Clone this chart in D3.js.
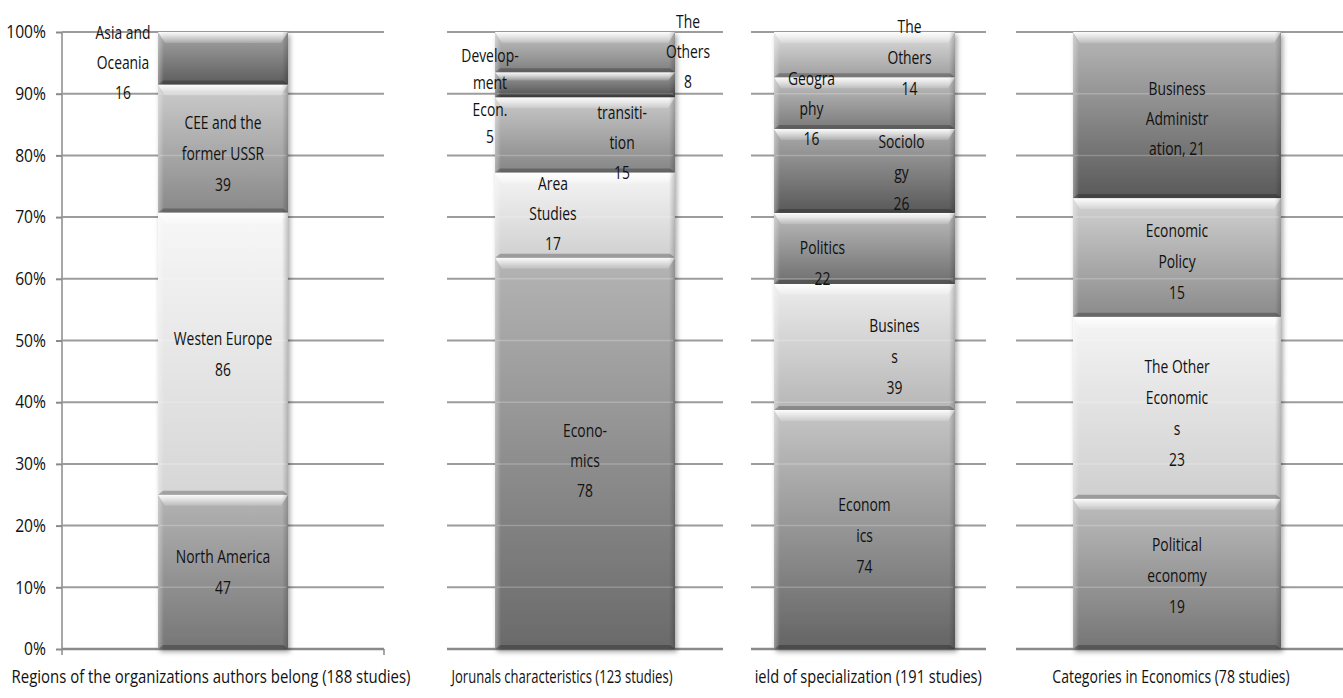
<!DOCTYPE html>
<html lang="en">
<head>
    <meta charset="UTF-8">
    <title>Studies by category</title>
    <script src="https://cdn.jsdelivr.net/npm/d3@7/dist/d3.min.js"></script>
    <style>
        body { margin: 0; background: #fff; }
        text { font-family: 'Open Sans', 'Noto Sans', sans-serif; font-size: 18px; fill: #111; }
    </style>
</head>
<body>
<script>
    // ---- data ----
    var regionNames = ['North America', 'Westen Europe', 'CEE and the\nformer USSR', 'Asia and\nOceania'];
    var regionValues = [47, 86, 39, 16];

    var journalNames = ['Econo-\nmics', 'Area\nStudies', 'transiti-\ntion', 'Develop-\nment\nEcon.', 'The\nOthers'];
    var journalValues = [78, 17, 15, 5, 8];

    var fieldNames = ['Econom\nics', 'Busines\ns', 'Politics', 'Sociolo\ngy', 'Geogra\nphy', 'The\nOthers'];
    var fieldValues = [74, 39, 22, 26, 16, 14];

    // a trailing comma means the value goes on the same line
    var econNames = ['Political\neconomy', 'The Other\nEconomic\ns', 'Economic\nPolicy', 'Business\nAdministr\nation,'];
    var econValues = [19, 23, 15, 21];

    var panelTitles = [
        'Regions of the organizations authors belong (188 studies)',
        'Jorunals characteristics (123 studies)',
        'Field of specialization (191 studies)',
        'Categories in Economics (78 studies)'
    ];
    var yTicks = [0, 0.1, 0.2, 0.3, 0.4, 0.5, 0.6, 0.7, 0.8, 0.9, 1];

    // ---- styles (top / bottom of each segment's gradient) ----
    var regionShades = [['#b4b4b4', '#767676'], ['#f7f7f7', '#d6d6d6'], ['#cccccc', '#888888'], ['#a6a6a6', '#5c5c5c']];
    var journalShades = [['#b4b4b4', '#6a6a6a'], ['#f5f5f5', '#d0d0d0'], ['#cacaca', '#858585'], ['#a0a0a0', '#505050'], ['#c4c4c4', '#7e7e7e']];
    var fieldShades = [['#c6c6c6', '#646464'], ['#ececec', '#b6b6b6'], ['#bcbcbc', '#6e6e6e'], ['#acacac', '#585858'], ['#c2c2c2', '#7a7a7a'], ['#dedede', '#9e9e9e']];
    var econShades = [['#bebebe', '#757575'], ['#f5f5f5', '#cfcfcf'], ['#d2d2d2', '#8a8a8a'], ['#b8b8b8', '#595959']];

    // label nudges [dx, dy, line height] from the segment centre
    var regionLabelShift = [[0, 0, 31], [0, 1, 31], [0, 5, 31], [-100, 4, 30]];
    var journalLabelShift = [[0, 7, 30], [-32, -1, 30], [37, 8, 30], [-95, 12, 27], [103, 0, 30]];
    var fieldLabelShift = [[0, 6, 31], [30, 10, 31], [-42, 15, 31], [37, 2, 31], [-53, 6, 30], [45, 3, 31]];
    var econLabelShift = [[0, 2, 31], [0, 5, 31], [0, 4, 31], [0, 4, 30]];

    var width = 1343, height = 698;
    // the original type is tall and narrow: squeeze it horizontally
    var labelSqueeze = 0.77;
    var tickSqueeze = 0.87;

    var panels = [
        {names: regionNames, values: regionValues, shades: regionShades, shift: regionLabelShift, grid: [62, 384], bar: [158, 288], titleDx: -12, titleSqueeze: 0.83},
        {names: journalNames, values: journalValues, shades: journalShades, shift: journalLabelShift, grid: [447, 723], bar: [495, 675], titleDx: -23, titleSqueeze: 0.725},
        {names: fieldNames, values: fieldValues, shades: fieldShades, shift: fieldLabelShift, grid: [751, 986], bar: [774, 955], titleDx: 0, titleSqueeze: 0.81, clip: true},
        {names: econNames, values: econValues, shades: econShades, shift: econLabelShift, grid: [1016, 1343], bar: [1073, 1281], titleDx: -6, titleSqueeze: 0.78}
    ];

    var svg = d3.select('body')
        .append('svg')
        .attr('width', width)
        .attr('height', height);

    var defs = svg.append('defs');

    var shadow = defs.append('filter').attr('id', 'barShadow')
        .attr('x', '-10%').attr('y', '-10%').attr('width', '130%').attr('height', '120%');
    shadow.append('feDropShadow')
        .attr('dx', 2).attr('dy', 3).attr('stdDeviation', 2.5)
        .attr('flood-color', '#000').attr('flood-opacity', 0.35);

    var bevel = defs.append('linearGradient').attr('id', 'bevelTop')
        .attr('x1', 0).attr('y1', 0).attr('x2', 0).attr('y2', 1);
    bevel.append('stop').attr('offset', '0%').attr('stop-color', '#fff').attr('stop-opacity', 0.95);
    bevel.append('stop').attr('offset', '100%').attr('stop-color', '#fff').attr('stop-opacity', 0.15);

    var sideL = defs.append('linearGradient').attr('id', 'sideL')
        .attr('x1', 0).attr('y1', 0).attr('x2', 1).attr('y2', 0);
    sideL.append('stop').attr('offset', '0%').attr('stop-color', '#fff').attr('stop-opacity', 0.35);
    sideL.append('stop').attr('offset', '100%').attr('stop-color', '#fff').attr('stop-opacity', 0);

    var sideR = defs.append('linearGradient').attr('id', 'sideR')
        .attr('x1', 0).attr('y1', 0).attr('x2', 1).attr('y2', 0);
    sideR.append('stop').attr('offset', '0%').attr('stop-color', '#000').attr('stop-opacity', 0);
    sideR.append('stop').attr('offset', '100%').attr('stop-color', '#000').attr('stop-opacity', 0.2);

    var y = d3.scaleLinear().domain([0, 1]).range([649, 32]);

    // y axis on the first panel only
    var yAxis = d3.axisLeft(y)
        .tickValues(yTicks)
        .tickFormat(d3.format('.0%'))
        .tickSize(6)
        .tickPadding(16);
    var axisG = svg.append('g')
        .attr('transform', 'translate(62,0)')
        .call(yAxis);
    axisG.select('.domain').attr('stroke', '#8a8a8a').attr('stroke-width', 1.5).attr('d', 'M0,32V655');
    axisG.selectAll('.tick line').attr('stroke', '#8a8a8a').attr('stroke-width', 2);
    axisG.selectAll('.tick text')
        .style('font-size', '18px')
        .attr('fill', '#111')
        .attr('x', -16 / tickSqueeze)
        .attr('transform', 'scale(' + tickSqueeze + ',1)');

    var labelLayer = [];

    panels.forEach(function (p, pi) {
        var g = svg.append('g');

        // grid lines
        g.selectAll('line.grid')
            .data(yTicks)
            .enter().append('line')
            .attr('x1', p.grid[0]).attr('x2', p.grid[1])
            .attr('y1', function (d) { return y(d); })
            .attr('y2', function (d) { return y(d); })
            .attr('stroke', function (d) { return d === 0 ? '#8a8a8a' : '#9c9c9c'; })
            .attr('stroke-width', function (d) { return d === 0 ? 2.5 : 2; });

        if (pi === 0) {
            g.append('line')
                .attr('x1', p.grid[1]).attr('x2', p.grid[1])
                .attr('y1', y(0)).attr('y2', y(0) + 6)
                .attr('stroke', '#8a8a8a').attr('stroke-width', 1.5);
        }

        var x = d3.scaleBand().domain([panelTitles[pi]]).range(p.bar);
        var x0 = x(panelTitles[pi]), bw = x.bandwidth(), x1 = x0 + bw;

        var row = {};
        p.names.forEach(function (n, i) { row[n] = p.values[i]; });
        var series = d3.stack().keys(p.names).offset(d3.stackOffsetExpand)([row]);

        // gradients for each segment
        series.forEach(function (s, i) {
            var lg = defs.append('linearGradient').attr('id', 'seg' + pi + '_' + i)
                .attr('x1', 0).attr('y1', 0).attr('x2', 0).attr('y2', 1);
            lg.append('stop').attr('offset', '0%').attr('stop-color', p.shades[i][0]);
            lg.append('stop').attr('offset', '100%').attr('stop-color', p.shades[i][1]);
        });

        var barG = g.append('g').attr('filter', 'url(#barShadow)');
        var segs = barG.selectAll('g.seg')
            .data(series)
            .enter().append('g');

        segs.append('rect')
            .attr('x', x0)
            .attr('width', bw)
            .attr('y', function (s) { return y(s[0][1]); })
            .attr('height', function (s) { return y(s[0][0]) - y(s[0][1]); })
            .attr('fill', function (s, i) { return 'url(#seg' + pi + '_' + i + ')'; });

        // top bevel highlight
        segs.append('path')
            .attr('d', function (s) {
                var t = y(s[0][1]), h = Math.min(11, (y(s[0][0]) - t) / 3);
                return 'M' + x0 + ',' + t + 'L' + x1 + ',' + t + 'L' + (x1 - 7) + ',' + (t + h) + 'L' + (x0 + 7) + ',' + (t + h) + 'Z';
            })
            .attr('fill', 'url(#bevelTop)');

        // side shading
        segs.append('rect')
            .attr('x', x0).attr('width', 6)
            .attr('y', function (s) { return y(s[0][1]); })
            .attr('height', function (s) { return y(s[0][0]) - y(s[0][1]); })
            .attr('fill', 'url(#sideL)');
        segs.append('rect')
            .attr('x', x1 - 6).attr('width', 6)
            .attr('y', function (s) { return y(s[0][1]); })
            .attr('height', function (s) { return y(s[0][0]) - y(s[0][1]); })
            .attr('fill', 'url(#sideR)');

        // dark bottom edge
        segs.append('path')
            .attr('d', function (s) {
                var b = y(s[0][0]), h = Math.min(4, (b - y(s[0][1])) / 4);
                return 'M' + x0 + ',' + b + 'L' + x1 + ',' + b + 'L' + (x1 - 5) + ',' + (b - h) + 'L' + (x0 + 5) + ',' + (b - h) + 'Z';
            })
            .attr('fill', '#000').attr('fill-opacity', 0.25);

        // grid lines faintly showing through the bar
        g.selectAll('line.through')
            .data(yTicks.slice(1, -1))
            .enter().append('line')
            .attr('x1', x0 + 2).attr('x2', x1 - 2)
            .attr('y1', function (d) { return y(d); })
            .attr('y2', function (d) { return y(d); })
            .attr('stroke', '#fff').attr('stroke-opacity', 0.22).attr('stroke-width', 1.5);

        // category title under the bar (the third one is cut at the left in the original)
        var titleG = svg.append('g');
        if (p.clip) {
            defs.append('clipPath').attr('id', 'titleClip' + pi)
                .append('rect').attr('x', p.grid[0] + 4).attr('y', 655).attr('width', 300).attr('height', 40);
            titleG.attr('clip-path', 'url(#titleClip' + pi + ')');
        }
        titleG.append('text')
            .attr('transform', 'translate(' + (x0 + bw / 2 + p.titleDx) + ',677) scale(' + p.titleSqueeze + ',1)')
            .attr('dy', '0.35em')
            .attr('text-anchor', 'middle')
            .text(panelTitles[pi]);

        series.forEach(function (s, i) {
            var lines = p.names[i].split('\n');
            var last = lines[lines.length - 1];
            if (last.charAt(last.length - 1) === ',') {
                lines[lines.length - 1] = last + ' ' + p.values[i];
            } else {
                lines.push(String(p.values[i]));
            }
            labelLayer.push({
                lines: lines,
                cx: x0 + bw / 2 + p.shift[i][0],
                cy: (y(s[0][0]) + y(s[0][1])) / 2 + p.shift[i][1],
                lh: p.shift[i][2]
            });
        });
    });

    // segment labels on top of everything
    var labels = svg.append('g').selectAll('text.lab')
        .data(labelLayer)
        .enter().append('text')
        .attr('text-anchor', 'middle')
        .attr('transform', function (d) { return 'translate(' + d.cx + ',' + d.cy + ') scale(' + labelSqueeze + ',1)'; });

    labels.selectAll('tspan')
        .data(function (d) {
            return d.lines.map(function (l, k) {
                return {t: l, y: (k - (d.lines.length - 1) / 2) * d.lh};
            });
        })
        .enter().append('tspan')
        .attr('x', 0)
        .attr('y', function (d) { return d.y; })
        .attr('dy', '0.35em')
        .text(function (d) { return d.t; });
</script>
</body>
</html>
